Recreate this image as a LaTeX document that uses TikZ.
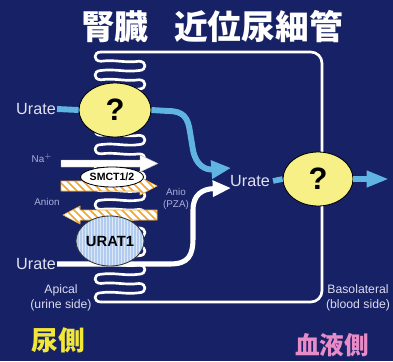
\documentclass[tikz,border=0pt]{standalone}
\usepackage{fontspec}
\setmainfont{Liberation Sans}
\newfontfamily\cjk{Noto Sans CJK JP}
\usetikzlibrary{arrows.meta,shapes.geometric,calc}

\definecolor{bgnavy}{RGB}{22,33,102}
\definecolor{flowblue}{RGB}{95,180,225}
\definecolor{qyellow}{RGB}{246,240,135}
\definecolor{stripeorange}{RGB}{238,168,48}
\definecolor{labelwhite}{RGB}{225,225,240}
\definecolor{labellav}{RGB}{175,175,220}
\definecolor{urinecol}{RGB}{242,230,55}
\definecolor{bloodcol}{RGB}{232,140,200}
\definecolor{uratfill}{RGB}{178,204,240}

\tikzset{
  membrane/.style={draw=white, line width=1.9pt, line cap=round, line join=round},
  qnode/.style={ellipse, draw=black, line width=0.6pt, fill=qyellow,
    minimum width=1.8cm, minimum height=1.35cm, inner sep=0pt,
    font=\fontsize{22}{22}\selectfont\bfseries},
  lbl/.style={text=labelwhite, inner sep=0pt, font=\fontsize{11.5}{12}\selectfont},
  small/.style={text=labellav, inner sep=0pt, align=center, font=\fontsize{7}{8}\selectfont},
  side/.style={text=labelwhite!90!labellav, inner sep=0pt, align=center, font=\fontsize{8.7}{10.5}\selectfont},
  blueflow/.style={draw=flowblue, line width=4.2pt},
  whiteflow/.style={draw=white, line width=3.6pt},
}

\begin{document}
\begin{tikzpicture}[x=0.025cm, y=-0.025cm]
  \useasboundingbox (0,0) rectangle (393,361);
  \fill[bgnavy] (0,0) rectangle (393,361);

  % title and side captions
  \node[text=white, inner sep=0pt, font=\fontsize{24}{24}\selectfont] (ttl) at (212,27)
    {\cjk\bfseries 腎臓\hspace{0.75em}近位尿細管};
  \node[text=urinecol, inner sep=0pt, font=\fontsize{19}{19}\selectfont] (urine) at (58,340)
    {\cjk\bfseries 尿側};
  \node[text=bloodcol, inner sep=0pt, font=\fontsize{17.5}{18}\selectfont] (blood) at (332,345)
    {\cjk\bfseries 血液側};

  % cell outline: basolateral side and the folded apical membrane
  \draw[membrane, rounded corners=8pt] (101,52) -- (322,52) -- (322,302) -- (101,302);
  \pgfmathsetmacro{\hh}{250/27}
  \draw[membrane] (101,52)
    \foreach \j in {0,...,12}{
      .. controls (93,{52+2*\j*\hh}) and (93,{52+(2*\j+1)*\hh}) .. (101,{52+(2*\j+1)*\hh})
      .. controls (115,{52+(2*\j+1)*\hh-2}) and (125,{52+(2*\j+1)*\hh+2}) .. (139,{52+(2*\j+1)*\hh})
      .. controls (147,{52+(2*\j+1)*\hh}) and (147,{52+(2*\j+2)*\hh}) .. (139,{52+(2*\j+2)*\hh})
      .. controls (125,{52+(2*\j+2)*\hh+2}) and (115,{52+(2*\j+2)*\hh-2}) .. (101,{52+(2*\j+2)*\hh})
    }
    .. controls (93,{52+26*\hh}) and (93,302) .. (101,302);

  % side labels
  \node[side] (apical) at (61,298) {Apical\\(urine side)};
  \node[side] (baso) at (358,298) {Basolateral\\(blood side)};

  % urate labels
  \node[lbl] (uin1) at (36,109) {Urate};
  \node[lbl] (uin2) at (36,264) {Urate};
  \node[lbl] (ucell) at (250,181) {Urate};
  \coordinate (tipA) at (231,168);
  \coordinate (tipB) at (231,188);

  % unknown transporters
  \node[qnode] (q1) at (115,110) {?};
  \node[qnode, minimum width=1.75cm] (q2) at (318,179) {?};

  % urate flows
  \draw[blueflow] (uin1.east) ++(1,0) -- (q1.west);
  \draw[blueflow, -{Triangle[length=14pt,width=12.5pt]}]
    (q1.east) -- (168,111) .. controls (184,111) and (188,118) .. (190,132)
    -- (193,150) .. controls (196,166) and (206,170) .. (tipA);
  \draw[whiteflow, -{Triangle[length=13pt,width=11pt]}]
    (uin2.east) ++(1,0) -- (170,264) .. controls (188,264) and (193,256) .. (193,238)
    -- (193,210) .. controls (193,195) and (202,189) .. (tipB);
  \draw[blueflow, line width=4pt] (ucell.east) ++(3,0) -- (q2.west);
  \draw[blueflow, line width=4pt, -{Triangle[length=16pt,width=11pt]}] (q2.east) -- (389,179);

  % Na+ arrow
  \node[small] (na) at (42,158) {Na$^{+}$};
  \filldraw[fill=white, draw=gray!60, line width=0.3pt]
    (61,160) -- (140,160) -- (140,155) -- (158,163.5) -- (140,172) -- (140,167) -- (61,167) -- cycle;

  % anion exchange arrows (striped)
  \node[small] (anion) at (47,202) {Anion};
  \node[small] (pza) at (176,199) {Anio\\(PZA)};
  \begin{scope}
    \clip (61,181) -- (140,181) -- (140,177) -- (157,186) -- (140,195) -- (140,191) -- (61,191) -- cycle;
    \fill[stripeorange] (55,170) rectangle (165,200);
    \foreach \s in {20,28,...,180}
      \draw[white, line width=2.6pt] (\s,170) -- (\s+30,200);
  \end{scope}
  \draw[stripeorange, line width=0.4pt]
    (61,181) -- (140,181) -- (140,177) -- (157,186) -- (140,195) -- (140,191) -- (61,191) -- cycle;
  \begin{scope}
    \clip (157,210) -- (80,210) -- (80,206) -- (63,215) -- (80,224) -- (80,220) -- (157,220) -- cycle;
    \fill[stripeorange] (55,200) rectangle (165,230);
    \foreach \s in {20,28,...,180}
      \draw[white, line width=2.6pt] (\s,200) -- (\s+30,230);
  \end{scope}
  \draw[stripeorange, line width=0.4pt]
    (157,210) -- (80,210) -- (80,206) -- (63,215) -- (80,224) -- (80,220) -- (157,220) -- cycle;

  % named transporters
  \node[ellipse, draw=black, line width=0.6pt, fill=white, minimum width=1.3cm, minimum height=0.5cm,
    inner sep=0pt, font=\fontsize{7.5}{8}\selectfont\bfseries] (smct) at (112,177) {SMCT1/2};
  \node[ellipse, draw=black!80, line width=0.6pt, fill=uratfill, minimum width=1.4cm, minimum height=1.25cm,
    inner sep=0pt, font=\fontsize{10.5}{11}\selectfont\bfseries,
    path picture={\foreach \i in {-34,-31,...,34}
      \draw[white, opacity=0.55, line width=0.5pt]
        ($(path picture bounding box.center)+(\i,-30)$) -- ++(0,60);}] (urat) at (110,241) {URAT1};
\end{tikzpicture}
\end{document}
